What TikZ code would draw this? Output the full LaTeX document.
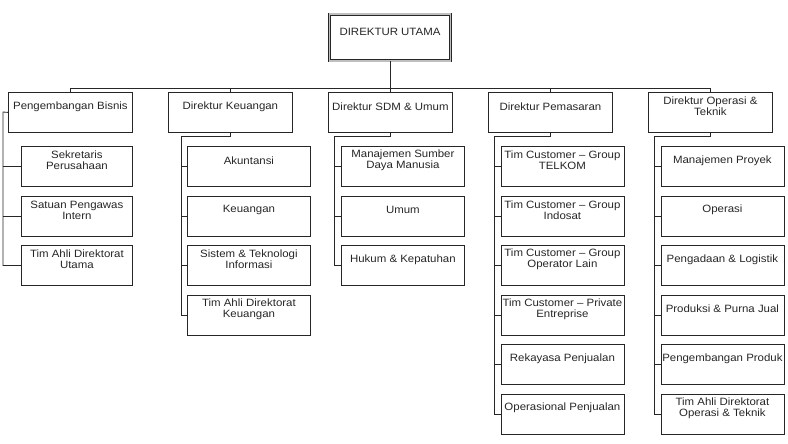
\documentclass[tikz,border=0pt]{standalone}
\usepackage{fontspec}
\setmainfont[FakeStretch=1.08]{Liberation Sans}
\begin{document}
\begin{tikzpicture}[x=1pt,y=-1pt,
  box/.style={draw=black!85, line width=0.8pt, rectangle, inner sep=0pt, minimum height=40pt, anchor=north west},
  dbox/.style={box, minimum width=124pt},
  cbox/.style={box, minimum width=123pt},
  cboxa/.style={box, minimum width=111pt},
  txt/.style={align=center, inner sep=0pt, font=\fontsize{10.6}{11}\selectfont, text=black!85},
  conn/.style={draw=black!85, line width=0.8pt}]
\newcommand\cb[5]{\node[#1] (#2) at (#3,#4) {};
  \node[txt] (#2t) at ([yshift=-14.5pt]#2.north) {#5};}
\useasboundingbox (0,0) rectangle (788,444);

% top
\node[draw=black!85, line width=0.7pt, double=black!25, double distance=1.6pt,
      minimum width=121pt, minimum height=46.5pt, inner sep=0pt] (top) at (390,37.5) {};
\node[txt] (topt) at (390,32) {DIREKTUR UTAMA};

% directors
\cb{dbox}{d1}{8}{92}{Pengembangan Bisnis}
\cb{dbox}{d2}{168}{92}{Direktur Keuangan}
\cb{dbox}{d3}{328}{92}{Direktur SDM \& Umum}
\cb{dbox}{d4}{488}{92}{Direktur Pemasaran}
\cb{dbox}{d5}{648}{92}{Direktur Operasi \&\\Teknik}

% column 1
\cb{cboxa}{c11}{21}{146}{Sekretaris\\Perusahaan}
\cb{cboxa}{c12}{21}{195.5}{Satuan Pengawas\\Intern}
\cb{cboxa}{c13}{21}{245}{Tim Ahli Direktorat\\Utama}
% column 2
\cb{cbox}{c21}{187}{146}{Akuntansi}
\cb{cbox}{c22}{187}{195.5}{Keuangan}
\cb{cbox}{c23}{187}{245}{Sistem \& Teknologi\\Informasi}
\cb{cbox}{c24}{187}{294.5}{Tim Ahli Direktorat\\Keuangan}
% column 3
\cb{cbox}{c31}{341}{146}{Manajemen Sumber\\Daya Manusia}
\cb{cbox}{c32}{341}{195.5}{Umum}
\cb{cbox}{c33}{341}{245}{Hukum \& Kepatuhan}
% column 4
\cb{cbox}{c41}{500.5}{146}{Tim Customer – Group\\TELKOM}
\cb{cbox}{c42}{500.5}{195.5}{Tim Customer – Group\\Indosat}
\cb{cbox}{c43}{500.5}{245}{Tim Customer – Group\\Operator Lain}
\cb{cbox}{c44}{500.5}{294.5}{Tim Customer – Private\\Entreprise}
\cb{cbox}{c45}{500.5}{344}{Rekayasa Penjualan}
\cb{cbox}{c46}{500.5}{393.5}{Operasional Penjualan}
% column 5
\cb{cbox}{c51}{660.5}{146}{Manajemen Proyek}
\cb{cbox}{c52}{660.5}{195.5}{Operasi}
\cb{cbox}{c53}{660.5}{245}{Pengadaan \& Logistik}
\cb{cbox}{c54}{660.5}{294.5}{Produksi \& Purna Jual}
\cb{cbox}{c55}{660.5}{344}{Pengembangan Produk}
\cb{cbox}{c56}{660.5}{393.5}{Tim Ahli Direktorat\\Operasi \& Teknik}

% top connectors
\coordinate (bus) at (390,88);
\draw[conn] (top.south) -- (bus);
\draw[conn] (d1.north |- bus) -- (d5.north |- bus);
\foreach \d in {d1,d2,d3,d4,d5} \draw[conn] (\d.north |- bus) -- (\d.north);

% column 1
\coordinate (v1) at (3,112);
\draw[conn] (d1.west) -- (v1) -- (v1 |- c13.west) -- (c13.west);
\foreach \c in {c11,c12} \draw[conn] (v1 |- \c.west) -- (\c.west);
% column 2
\coordinate (v2) at (181,136);
\draw[conn] (d2.south) -- (d2.south |- v2) -- (v2) -- (v2 |- c24.west) -- (c24.west);
\foreach \c in {c21,c22,c23} \draw[conn] (v2 |- \c.west) -- (\c.west);
% column 3
\coordinate (v3) at (334.5,136);
\draw[conn] (d3.south) -- (d3.south |- v3) -- (v3) -- (v3 |- c33.west) -- (c33.west);
\foreach \c in {c31,c32} \draw[conn] (v3 |- \c.west) -- (\c.west);
% column 4
\coordinate (v4) at (494.5,136);
\draw[conn] (d4.south) -- (d4.south |- v4) -- (v4) -- (v4 |- c46.west) -- (c46.west);
\foreach \c in {c41,c42,c43,c44,c45} \draw[conn] (v4 |- \c.west) -- (\c.west);
% column 5
\coordinate (v5) at (654.5,136);
\draw[conn] (d5.south) -- (d5.south |- v5) -- (v5) -- (v5 |- c56.west) -- (c56.west);
\foreach \c in {c51,c52,c53,c54,c55} \draw[conn] (v5 |- \c.west) -- (\c.west);
\end{tikzpicture}
\end{document}
